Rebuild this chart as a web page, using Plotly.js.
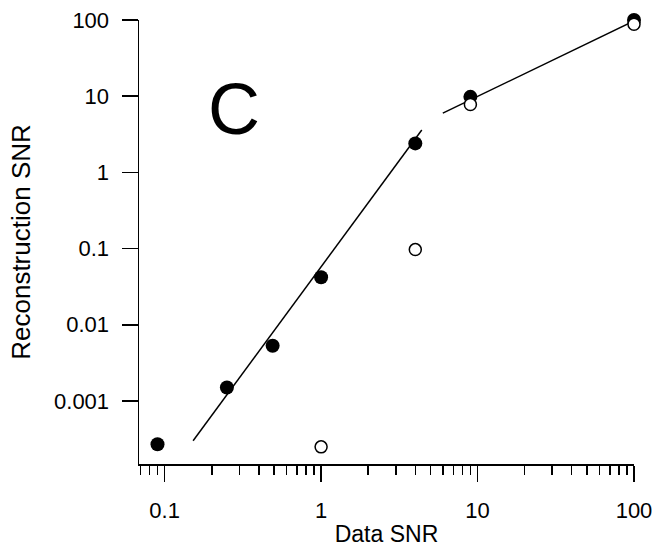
<!DOCTYPE html>
<html>
<head>
<meta charset="utf-8">
<script src="https://cdn.plot.ly/plotly-3.0.1.min.js"></script>
<style>html,body{margin:0;padding:0;background:#fff;}#chart{width:660px;height:548px;}</style>
</head>
<body>
<div id="chart"></div>
<script>
// Data
var filledX = [0.09, 0.25, 0.49, 1, 4, 9, 100];
var filledY = [0.00027, 0.0015, 0.0053, 0.042, 2.4, 9.8, 100];
var openX = [1, 4, 9, 100];
var openY = [0.00025, 0.097, 7.8, 88];
var fitLowX = [0.152, 4.4];
var fitLowY = [0.000301, 3.6];
var fitHighX = [6.0, 100];
var fitHighY = [6.0, 97];
var xTickVals = [0.1, 1, 10, 100];
var xTickText = ['0.1', '1', '10', '100'];
var yTickVals = [0.001, 0.01, 0.1, 1, 10, 100];
var yTickText = ['0.001', '0.01', '0.1', '1', '10', '100'];
var panelLabel = 'C';
var xTitle = 'Data SNR';
var yTitle = 'Reconstruction SNR';

var FONT = '"Liberation Sans", Arial, Helvetica, sans-serif';

var traces = [
  {x: fitLowX, y: fitLowY, mode: 'lines', line: {color: '#000', width: 1.5}, hoverinfo: 'skip'},
  {x: fitHighX, y: fitHighY, mode: 'lines', line: {color: '#000', width: 1.5}, hoverinfo: 'skip'},
  {x: filledX, y: filledY, mode: 'markers', cliponaxis: false,
   marker: {symbol: 'circle', size: 14, color: '#000', line: {width: 0}}},
  {x: openX, y: openY, mode: 'markers', cliponaxis: false,
   marker: {symbol: 'circle', size: 12, color: '#fff', line: {color: '#000', width: 1.5}}}
];

var layout = {
  width: 660, height: 548,
  margin: {l: 139, r: 26, t: 20, b: 84},
  paper_bgcolor: '#fff', plot_bgcolor: '#fff',
  showlegend: false,
  font: {family: FONT, color: '#000', size: 22},
  xaxis: {
    type: 'log', range: [-1.164, 2],
    showline: true, linecolor: '#000', linewidth: 1.5,
    showgrid: false, zeroline: false,
    ticks: 'outside', ticklen: 16, tickwidth: 1.5, tickcolor: '#000',
    tickvals: xTickVals, ticktext: xTickText,
    tickfont: {family: FONT, size: 22, color: '#000'},
    ticklabelstandoff: 10,
    minor: {ticks: 'outside', ticklen: 9, tickwidth: 1.5, tickcolor: '#000', dtick: 'D1', showgrid: false},
    title: {text: xTitle, font: {family: FONT, size: 23, color: '#000'}, standoff: 4}
  },
  yaxis: {
    type: 'log', range: [-3.827, 2],
    showline: true, linecolor: '#000', linewidth: 1.5,
    showgrid: false, zeroline: false,
    ticks: 'outside', ticklen: 16, tickwidth: 1.5, tickcolor: '#000',
    tickvals: yTickVals, ticktext: yTickText,
    tickfont: {family: FONT, size: 22, color: '#000'},
    ticklabelstandoff: 8,
    title: {text: yTitle, font: {family: FONT, size: 26, color: '#000'}, standoff: 16}
  },
  annotations: [{
    text: panelLabel, xref: 'paper', yref: 'paper', x: 0.192, y: 0.8,
    xanchor: 'center', yanchor: 'middle', showarrow: false,
    font: {family: FONT, size: 72, color: '#000'}
  }]
};

Plotly.newPlot('chart', traces, layout, {displayModeBar: false, staticPlot: true});
</script>
</body>
</html>
